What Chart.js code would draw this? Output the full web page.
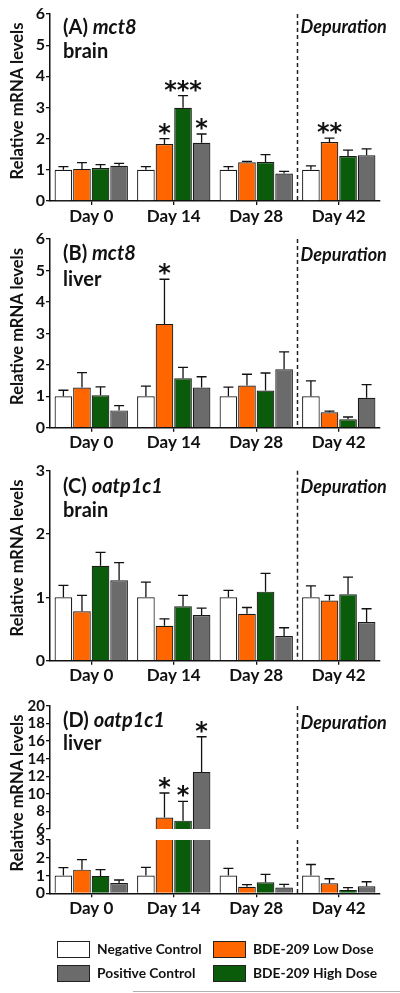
<!DOCTYPE html>
<html><head><meta charset="utf-8">
<script src="https://cdn.jsdelivr.net/npm/chart.js@4.4.1/dist/chart.umd.min.js"></script>
<style>
html,body{margin:0;padding:0;background:#fff}
body{width:400px;height:993px;position:relative;overflow:hidden;font-family:Lato,"Open Sans",sans-serif}
canvas{position:absolute;left:0}
.lg{position:absolute;font-weight:bold;font-size:13.8px;color:#111;line-height:16px;white-space:nowrap}
.bx{position:absolute;width:31px;height:15px;border:1px solid #222}
</style></head>
<body>
<canvas id="cA" width="400" height="230" style="top:0px"></canvas>
<canvas id="cB" width="400" height="230" style="top:225px"></canvas>
<canvas id="cC" width="400" height="235" style="top:450px"></canvas>
<canvas id="cDu" width="400" height="240" style="top:690px"></canvas>
<canvas id="cDl" width="400" height="240" style="top:690px"></canvas>

<div class="bx" style="left:57px;top:941px;background:#ffffff"></div>
<div class="lg" style="left:97px;top:941px">Negative Control</div>
<div class="bx" style="left:57px;top:965px;background:#6b6b6b"></div>
<div class="lg" style="left:97px;top:965px">Positive Control</div>
<div class="bx" style="left:213px;top:941px;background:#ff6600"></div>
<div class="lg" style="left:253px;top:941px">BDE-209 Low Dose</div>
<div class="bx" style="left:213px;top:965px;background:#0a5c0a"></div>
<div class="lg" style="left:253px;top:965px">BDE-209 High Dose</div>
<div style="position:absolute;left:133px;top:991px;width:267px;height:1px;background:#b0b0b0"></div>

<script>
// ---------- DATA ----------
const days = ['Day 0', 'Day 14', 'Day 28', 'Day 42'];
const seriesNames = ['Negative Control', 'BDE-209 Low Dose', 'BDE-209 High Dose', 'Positive Control'];

// (A) mct8 brain
const aNeg  = [1.00, 1.00, 1.00, 1.00];
const aLow  = [1.03, 1.83, 1.24, 1.89];
const aHigh = [1.06, 2.99, 1.25, 1.44];
const aPos  = [1.13, 1.87, 0.88, 1.47];
const aNegSem  = [0.10, 0.10, 0.10, 0.13];
const aLowSem  = [0.20, 0.17, 0.03, 0.13];
const aHighSem = [0.11, 0.39, 0.24, 0.19];
const aPosSem  = [0.08, 0.28, 0.07, 0.20];
const aNegSig  = ['', '', '', ''];
const aLowSig  = ['', '*', '', '**'];
const aHighSig = ['', '***', '', ''];
const aPosSig  = ['', '*', '', ''];
const aTicks = [0, 1, 2, 3, 4, 5, 6];

// (B) mct8 liver
const bNeg  = [1.00, 1.00, 1.00, 1.00];
const bLow  = [1.28, 3.30, 1.34, 0.49];
const bHigh = [1.03, 1.57, 1.18, 0.27];
const bPos  = [0.55, 1.28, 1.86, 0.95];
const bNegSem  = [0.19, 0.32, 0.29, 0.49];
const bLowSem  = [0.47, 1.42, 0.36, 0.04];
const bHighSem = [0.27, 0.35, 0.56, 0.07];
const bPosSem  = [0.15, 0.34, 0.55, 0.42];
const bNegSig  = ['', '', '', ''];
const bLowSig  = ['', '*', '', ''];
const bHighSig = ['', '', '', ''];
const bPosSig  = ['', '', '', ''];
const bTicks = [0, 1, 2, 3, 4, 5, 6];

// (C) oatp1c1 brain
const cNeg  = [1.00, 1.00, 1.00, 1.00];
const cLow  = [0.78, 0.55, 0.74, 0.95];
const cHigh = [1.50, 0.86, 1.09, 1.05];
const cPos  = [1.27, 0.72, 0.39, 0.61];
const cNegSem  = [0.19, 0.24, 0.11, 0.18];
const cLowSem  = [0.25, 0.11, 0.10, 0.08];
const cHighSem = [0.21, 0.17, 0.29, 0.27];
const cPosSem  = [0.28, 0.11, 0.13, 0.21];
const cNegSig  = ['', '', '', ''];
const cLowSig  = ['', '', '', ''];
const cHighSig = ['', '', '', ''];
const cPosSig  = ['', '', '', ''];
const cTicks = [0, 1, 2, 3];

// (D) oatp1c1 liver (broken axis)
const dNeg  = [1.00, 1.00, 1.00, 1.00];
const dLow  = [1.33, 7.30, 0.37, 0.56];
const dHigh = [0.98, 6.95, 0.62, 0.19];
const dPos  = [0.58, 12.5, 0.32, 0.39];
const dNegSem  = [0.45, 0.46, 0.40, 0.62];
const dLowSem  = [0.57, 2.80, 0.12, 0.26];
const dHighSem = [0.35, 2.20, 0.45, 0.13];
const dPosSem  = [0.17, 4.00, 0.18, 0.26];
const dNegSig  = ['', '', '', ''];
const dLowSig  = ['', '*', '', ''];
const dHighSig = ['', '*', '', ''];
const dPosSig  = ['', '*', '', ''];
const dTicksUpper = [6, 8, 10, 12, 14, 16, 18, 20];
const dTicksLower = [0, 1, 2, 3];

// ---------- STYLE ----------
const barColors = ['#ffffff', '#ff6600', '#0a5c0a', '#6b6b6b'];
const FONT = 'Lato';

const decoPlugin = {
  id: 'deco',
  afterDatasetsDraw(chart) {
    const o = chart.options.plugins.deco || {};
    const ctx = chart.ctx;
    const area = chart.chartArea;
    const xs = chart.scales.x, ys = chart.scales.y;
    // error bars
    ctx.save();
    ctx.beginPath();
    ctx.rect(area.left, area.top - 1, area.right - area.left, area.bottom - area.top + 1);
    ctx.clip();
    ctx.strokeStyle = '#111';
    ctx.lineWidth = 1.3;
    chart.data.datasets.forEach((ds, i) => {
      const meta = chart.getDatasetMeta(i);
      ds.values.forEach((v, j) => {
        const x = meta.data[j].x;
        const yb = ys.getPixelForValue(v);
        const yt = ys.getPixelForValue(v + ds.sem[j]);
        ctx.beginPath();
        ctx.moveTo(x, yb); ctx.lineTo(x, yt);
        ctx.moveTo(x - 5, yt); ctx.lineTo(x + 5, yt);
        ctx.stroke();
      });
    });
    ctx.restore();
    // significance stars
    if (o.stars) {
      ctx.save();
      ctx.fillStyle = '#111';
      ctx.font = 'bold 24px "DejaVu Sans"';
      ctx.textAlign = 'center';
      ctx.textBaseline = 'alphabetic';
      const m = ctx.measureText('*');
      const off = (m.actualBoundingBoxAscent - m.actualBoundingBoxDescent) / 2;
      chart.data.datasets.forEach((ds, i) => {
        const meta = chart.getDatasetMeta(i);
        ds.sig.forEach((s, j) => {
          if (!s) return;
          const x = meta.data[j].x;
          const yt = ys.getPixelForValue(ds.values[j] + ds.sem[j]);
          ctx.fillText(s, x, yt - 10 + off);
        });
      });
      ctx.restore();
    }
    // dashed depuration divider
    const xd = (xs.getPixelForValue(2) + xs.getPixelForValue(3)) / 2;
    ctx.save();
    ctx.strokeStyle = '#222';
    ctx.lineWidth = 1.5;
    ctx.setLineDash([4, 3]);
    ctx.beginPath();
    ctx.moveTo(xd, area.top);
    ctx.lineTo(xd, area.bottom);
    ctx.stroke();
    ctx.restore();
    ctx.save();
    ctx.fillStyle = '#111';
    ctx.textBaseline = 'alphabetic';
    if (o.depBase) {
      ctx.font = 'italic bold 18px ' + FONT;
      ctx.textAlign = 'left';
      ctx.fillText('Depuration', xd + 3, o.depBase);
    }
    if (o.letter) {
      ctx.textAlign = 'left';
      ctx.font = 'bold 20px ' + FONT;
      ctx.fillText(o.letter, 63, o.line1);
      const w = ctx.measureText(o.letter).width;
      ctx.font = 'italic bold 20px ' + FONT;
      ctx.fillText(o.gene, 63 + w, o.line1);
      ctx.font = 'bold 20px ' + FONT;
      ctx.fillText(o.tissue, 63, o.line2);
    }
    if (o.yTitleY) {
      ctx.translate(18, o.yTitleY);
      ctx.rotate(-Math.PI / 2);
      ctx.textAlign = 'center';
      ctx.textBaseline = 'middle';
      ctx.font = 'bold 16.5px ' + FONT;
      ctx.fillText('Relative mRNA levels', 0, 0);
    }
    ctx.restore();
  }
};

function makeChart(id, p) {
  const datasets = p.values.map((vals, i) => ({
    label: seriesNames[i],
    data: vals,
    values: vals,
    sem: p.sems[i],
    sig: p.sigs[i],
    backgroundColor: barColors[i],
    borderColor: '#1a1a1a',
    borderWidth: 1.2,
    categoryPercentage: 0.9,
    barPercentage: 0.95,
    clip: 0
  }));
  return new Chart(document.getElementById(id), {
    type: 'bar',
    data: { labels: days, datasets },
    plugins: [decoPlugin],
    options: {
      responsive: false,
      animation: false,
      devicePixelRatio: 1,
      layout: { padding: { top: p.padTop, bottom: p.padBottom, left: 0, right: 20 } },
      plugins: {
        legend: { display: false },
        tooltip: { enabled: false },
        deco: p.deco
      },
      scales: {
        x: {
          display: p.showX,
          grid: { display: true, drawOnChartArea: false, drawTicks: true, tickLength: 4, offset: false, color: '#111', lineWidth: 1.3 },
          border: { display: true, color: '#111', width: 1.5 },
          ticks: { color: '#111', padding: 1, autoSkip: false, maxRotation: 0, font: { family: FONT, weight: 'bold', size: 17 } },
          afterFit(s) { s.height = p.xH; }
        },
        y: {
          min: p.min, max: p.max,
          afterBuildTicks(s) { s.ticks = p.ticks.map(v => ({ value: v })); },
          grid: { display: true, drawOnChartArea: false, drawTicks: true, tickLength: 4, color: '#111', lineWidth: 1.3 },
          border: { display: true, color: '#111', width: 1.5 },
          ticks: { color: '#111', padding: 1, autoSkip: false, font: { family: FONT, weight: 'bold', size: p.tickSize } },
          afterFit(s) { s.width = 50; }
        }
      }
    }
  });
}

function build() {
  Chart.defaults.font.family = FONT;
  makeChart('cA', {
    values: [aNeg, aLow, aHigh, aPos], sems: [aNegSem, aLowSem, aHighSem, aPosSem],
    sigs: [aNegSig, aLowSig, aHighSig, aPosSig], ticks: aTicks, min: 0, max: 6,
    padTop: 14, padBottom: 0, xH: 29, showX: true, tickSize: 16,
    deco: { stars: true, depBase: 33, letter: '(A) ', gene: 'mct8', tissue: 'brain', line1: 34, line2: 57.5, yTitleY: 101 }
  });
  makeChart('cB', {
    values: [bNeg, bLow, bHigh, bPos], sems: [bNegSem, bLowSem, bHighSem, bPosSem],
    sigs: [bNegSig, bLowSig, bHighSig, bPosSig], ticks: bTicks, min: 0, max: 6,
    padTop: 14, padBottom: 0, xH: 27.3, showX: true, tickSize: 16,
    deco: { stars: true, depBase: 36, letter: '(B) ', gene: 'mct8', tissue: 'liver', line1: 35, line2: 60.5, yTitleY: 101.5 }
  });
  makeChart('cC', {
    values: [cNeg, cLow, cHigh, cPos], sems: [cNegSem, cLowSem, cHighSem, cPosSem],
    sigs: [cNegSig, cLowSig, cHighSig, cPosSig], ticks: cTicks, min: 0, max: 3,
    padTop: 20.7, padBottom: 0, xH: 24.3, showX: true, tickSize: 16,
    deco: { stars: true, depBase: 42.7, letter: '(C) ', gene: 'oatp1c1', tissue: 'brain', line1: 42.7, line2: 66.7, yTitleY: 108 }
  });
  makeChart('cDu', {
    values: [dNeg, dLow, dHigh, dPos], sems: [dNegSem, dLowSem, dHighSem, dPosSem],
    sigs: [dNegSig, dLowSig, dHighSig, dPosSig], ticks: dTicksUpper, min: 6, max: 20,
    padTop: 16, padBottom: 101, xH: 0, showX: false, tickSize: 15,
    deco: { stars: true, depBase: 39.3, letter: '(D) ', gene: 'oatp1c1', tissue: 'liver', line1: 36.7, line2: 60, yTitleY: 103 }
  });
  makeChart('cDl', {
    values: [dNeg, dLow, dHigh, dPos], sems: [dNegSem, dLowSem, dHighSem, dPosSem],
    sigs: [dNegSig, dLowSig, dHighSig, dPosSig], ticks: dTicksLower, min: 0, max: 3,
    padTop: 150, padBottom: 0, xH: 36.7, showX: true, tickSize: 16,
    deco: { stars: false }
  });
}
if (document.fonts && document.fonts.load) {
  Promise.all([
    document.fonts.load('bold 15px Lato'),
    document.fonts.load('italic bold 15px Lato'),
    document.fonts.load('bold 24px "DejaVu Sans"')
  ]).then(build, build);
} else { build(); }
</script>
</body></html>
